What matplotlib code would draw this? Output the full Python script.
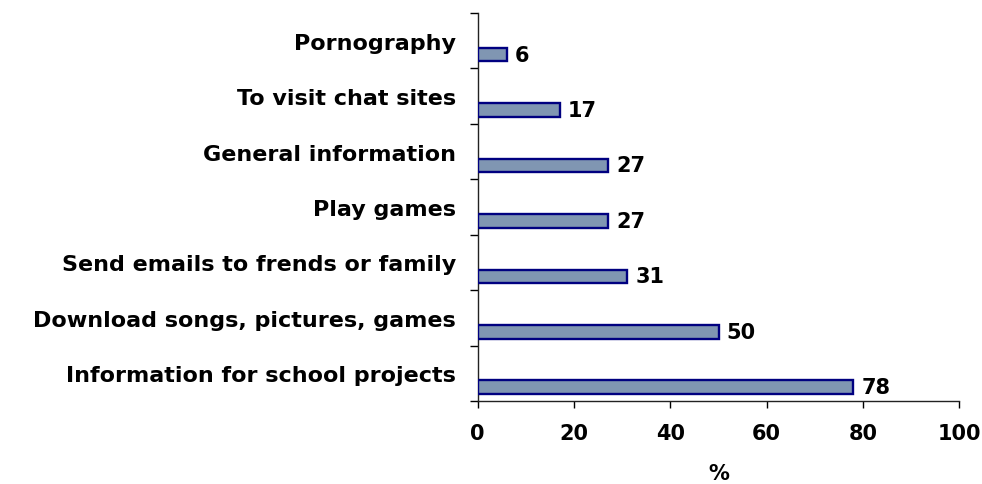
import matplotlib
matplotlib.use("Agg")
import matplotlib.pyplot as plt
import numpy as np

categories = [
    "Pornography",
    "To visit chat sites",
    "General information",
    "Play games",
    "Send emails to frends or family",
    "Download songs, pictures, games",
    "Information for school projects",
]
values = [6, 17, 27, 27, 31, 50, 78]
xticks = [0, 20, 40, 60, 80, 100]
xlabel = "%"

plt.rcParams['font.family'] = ['DejaVu Sans']

fig = plt.figure(figsize=(9.82, 4.85), dpi=100)
ax = fig.add_axes([0.4865, 0.1711, 0.9769 - 0.4865, 0.9711 - 0.1711])

n = len(categories)
pos = np.arange(n)
bar_off = 0.25
bar_h = 0.245
ax.barh(pos + bar_off, values, height=bar_h, color="#8096B2",
        edgecolor="#000080", linewidth=1.7, zorder=3)

for p, v in zip(pos, values):
    ax.annotate(f"{v}", xy=(v, p + bar_off), xytext=(6, 0),
                textcoords="offset points", ha="left", va="center",
                fontsize=15, fontweight="bold", color="black")

ax.set_xlim(0, 100)
ax.set_ylim(n - 0.5, -0.5)

ax.set_xticks(xticks)
ax.set_xticklabels([str(t) for t in xticks], fontsize=15, fontweight="bold")
ax.tick_params(axis="x", direction="out", length=5, width=1, pad=11)

ax.set_yticks(np.arange(-0.5, n, 1.0))
ax.set_yticklabels([])
ax.tick_params(axis="y", which="major", direction="out", length=6, width=1)
ax.set_yticks(pos, minor=True)
ax.set_yticklabels(categories, minor=True, fontsize=16, fontweight="bold")
ax.tick_params(axis="y", which="minor", length=0, pad=15.5)

ax.set_xlabel(xlabel, fontsize=15, fontweight="bold", labelpad=14)

for s in ["top", "right"]:
    ax.spines[s].set_visible(False)
for s in ["left", "bottom"]:
    ax.spines[s].set_color("#222222")
    ax.spines[s].set_linewidth(1.0)

fig.savefig("out.png", dpi=100)
